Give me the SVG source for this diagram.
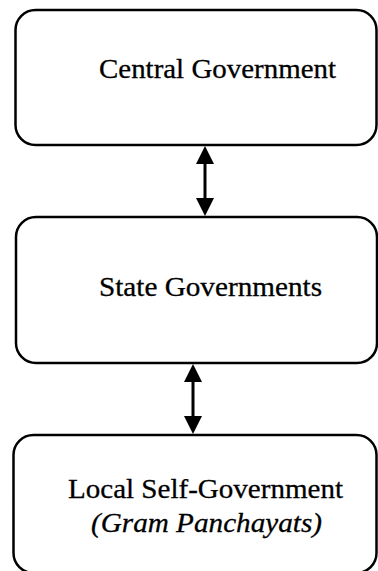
<svg xmlns="http://www.w3.org/2000/svg" width="378" height="571" viewBox="0 0 378 571">
<defs>
<style>
.box{fill:#fff;stroke:#000;stroke-width:2.5}
.t{font-family:'Liberation Serif','Times New Roman',Times,serif;font-size:28px;fill:#000;text-anchor:middle;stroke:#000;stroke-width:0.3}
.i{font-style:italic}
.ln{stroke:#000;stroke-width:3;fill:none}
.hd{fill:#000}
</style>
</defs>
<rect width="378" height="571" fill="#fff"/>
<g id="central">
<rect class="box" x="15.5" y="10" width="361" height="135" rx="20" ry="20"/>
<text class="t" x="217.5" y="78" textLength="237" lengthAdjust="spacingAndGlyphs">Central Government</text>
</g>
<g id="state">
<rect class="box" x="16" y="217" width="361" height="146" rx="20" ry="20"/>
<text class="t" x="210.5" y="296" textLength="223" lengthAdjust="spacingAndGlyphs">State Governments</text>
</g>
<g id="local">
<rect class="box" x="13.5" y="435" width="363" height="138" rx="20" ry="20"/>
<text class="t" x="205.5" y="498" textLength="275" lengthAdjust="spacingAndGlyphs">Local Self-Government</text>
<text class="t i" x="206.5" y="532" textLength="231" lengthAdjust="spacingAndGlyphs">(Gram Panchayats)</text>
</g>
<g id="connectors">
<line class="ln" x1="205" y1="160" x2="205" y2="202"/>
<polygon class="hd" points="205,146 196,164 214,164"/>
<polygon class="hd" points="205,216 196,198 214,198"/>
<line class="ln" x1="193" y1="378" x2="193" y2="420"/>
<polygon class="hd" points="193,364 184,382 202,382"/>
<polygon class="hd" points="193,434 184,416 202,416"/>
</g>
</svg>
